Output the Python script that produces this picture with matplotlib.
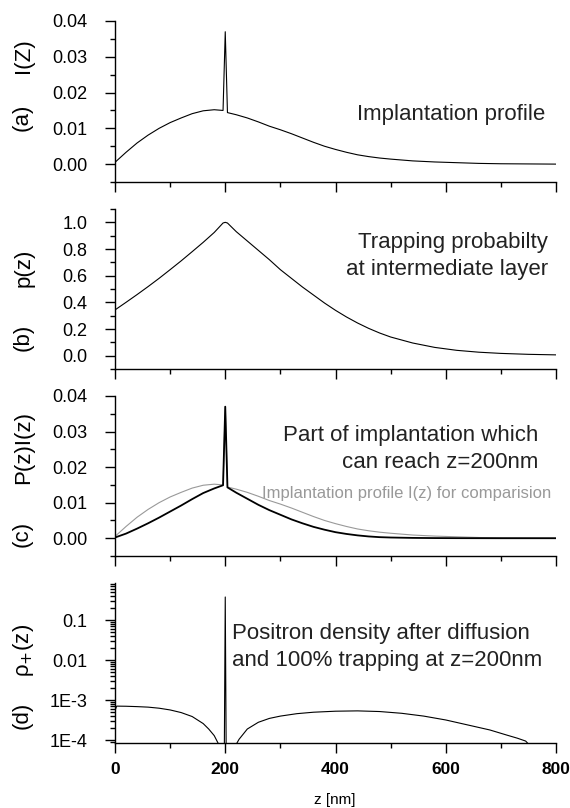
import matplotlib
matplotlib.use("Agg")
import matplotlib.pyplot as plt
from matplotlib.ticker import MultipleLocator, FixedLocator, FixedFormatter, LogLocator, NullFormatter

plt.rcParams['font.family'] = ['Liberation Sans', 'DejaVu Sans']

# ---------------- data ----------------
z_I = [0, 20, 40, 60, 80, 100, 120, 140, 160, 180, 196, 200, 204, 220, 240, 260, 280,
       300, 320, 340, 360, 380, 400, 420, 440, 460, 480, 500, 540, 580, 620, 660, 700, 750, 800]
I_z = [0.0005, 0.0033, 0.0059, 0.0081, 0.0100, 0.0116, 0.0129, 0.0141, 0.0149, 0.0152, 0.0150,
       0.0370, 0.0144, 0.0138, 0.0129, 0.0118, 0.0106, 0.0096, 0.0085, 0.0073, 0.0061, 0.0050,
       0.0041, 0.0033, 0.0026, 0.0021, 0.0017, 0.0014, 0.0009, 0.0006, 0.0004, 0.0002, 0.0001,
       0.00005, 0.0]

z_p = [0, 20, 40, 60, 80, 100, 120, 140, 160, 180, 196, 200, 204, 220, 240, 260, 280,
       300, 320, 340, 360, 380, 400, 420, 440, 460, 480, 500, 540, 580, 620, 660, 700, 750, 800]
p_z = [0.343, 0.400, 0.458, 0.518, 0.580, 0.645, 0.711, 0.780, 0.850, 0.924, 0.995, 1.0, 0.995,
       0.93, 0.86, 0.79, 0.72, 0.645, 0.58, 0.515, 0.455, 0.395, 0.34, 0.29, 0.245, 0.205, 0.17,
       0.14, 0.095, 0.062, 0.04, 0.026, 0.017, 0.010, 0.006]

z_PI = [0, 20, 40, 60, 80, 100, 120, 140, 160, 180, 196, 200, 204, 220, 240, 260, 280,
        300, 320, 340, 360, 380, 400, 420, 440, 460, 480, 500, 540, 580, 620, 660, 700, 750, 800]
PI_z = [0.0002, 0.0013, 0.0027, 0.0042, 0.0058, 0.0075, 0.0092, 0.0110, 0.0127, 0.0140, 0.0149,
        0.0370, 0.0143, 0.0128, 0.0111, 0.0094, 0.0079, 0.0066, 0.0053, 0.0042, 0.0032, 0.0024,
        0.0017, 0.0012, 0.0008, 0.0005, 0.0003, 0.0002, 0.00009, 0.00004, 0.00002, 0.00001,
        0.0, 0.0, 0.0]

z_rho = [0, 3, 20, 40, 60, 80, 100, 120, 140, 160, 170, 180, 190, 198, 200, 202, 215, 225,
         240, 260, 280, 300, 330, 360, 400, 440, 480, 520, 560, 600, 640, 680, 710, 730, 745, 750]
rho_z = [5.5e-4, 7.1e-4, 7.05e-4, 6.9e-4, 6.7e-4, 6.3e-4, 5.7e-4, 4.9e-4, 3.9e-4, 2.6e-4, 1.9e-4,
         1.3e-4, 7e-5, 1e-5, 0.38, 1e-5, 6e-5, 1.05e-4, 1.9e-4, 2.8e-4, 3.5e-4, 4.0e-4, 4.6e-4,
         5.0e-4, 5.3e-4, 5.4e-4, 5.2e-4, 4.7e-4, 4.0e-4, 3.2e-4, 2.4e-4, 1.8e-4, 1.35e-4, 1.12e-4,
         9.5e-5, 8e-5]

x_ticks = [0, 200, 400, 600, 800]
x_ticklabels = ['0', '200', '400', '600', '800']
rho_ticks = [1e-4, 1e-3, 1e-2, 1e-1]
rho_ticklabels = ['1E-4', '1E-3', '0.01', '0.1']

# ---------------- layout ----------------
W, H = 570, 808
fig = plt.figure(figsize=(W / 100, H / 100), dpi=100)


def px_axes(top, bottom):
    left, right = 115, 556
    return fig.add_axes([left / W, 1 - bottom / H, (right - left) / W, (bottom - top) / H])


def style(ax, show_xlabels=False):
    for s in ['top', 'right']:
        ax.spines[s].set_visible(False)
    for s in ['left', 'bottom']:
        ax.spines[s].set_linewidth(1.0)
    ax.set_xlim(0, 800)
    ax.xaxis.set_major_locator(FixedLocator(x_ticks))
    ax.xaxis.set_minor_locator(MultipleLocator(100))
    ax.tick_params(which='major', direction='out', length=7, width=1.0, labelsize=13, pad=13)
    ax.tick_params(which='minor', direction='out', length=3.5, width=1.0)
    ax.tick_params(axis='x', which='major', pad=7)
    if show_xlabels:
        ax.set_xticklabels(x_ticklabels, fontweight='bold', fontsize=12.5)
    else:
        ax.set_xticklabels([])


def ftext(x, y, s, **kw):
    fig.text(x / W, 1 - y / H, s, **kw)


# (a)
ax1 = px_axes(21, 182)
ax1.plot(z_I, I_z, color='black', lw=0.8)
ax1.set_ylim(-0.005, 0.04)
ax1.yaxis.set_major_locator(FixedLocator([0.0, 0.01, 0.02, 0.03, 0.04]))
ax1.yaxis.set_major_formatter(FixedFormatter(['0.00', '0.01', '0.02', '0.03', '0.04']))
ax1.yaxis.set_minor_locator(MultipleLocator(0.005))
style(ax1)

# (b)
ax2 = px_axes(209, 369)
ax2.plot(z_p, p_z, color='black', lw=0.8)
ax2.set_ylim(-0.1, 1.1)
ax2.yaxis.set_major_locator(FixedLocator([0.0, 0.2, 0.4, 0.6, 0.8, 1.0]))
ax2.yaxis.set_major_formatter(FixedFormatter(['0.0', '0.2', '0.4', '0.6', '0.8', '1.0']))
ax2.yaxis.set_minor_locator(MultipleLocator(0.1))
style(ax2)

# (c)
ax3 = px_axes(396, 556)
ax3.plot(z_I, I_z, color='#999999', lw=0.8)
ax3.plot(z_PI, PI_z, color='black', lw=1.3)
ax3.set_ylim(-0.005, 0.04)
ax3.yaxis.set_major_locator(FixedLocator([0.0, 0.01, 0.02, 0.03, 0.04]))
ax3.yaxis.set_major_formatter(FixedFormatter(['0.00', '0.01', '0.02', '0.03', '0.04']))
ax3.yaxis.set_minor_locator(MultipleLocator(0.005))
style(ax3)

# (d)
ax4 = px_axes(583, 743)
ax4.plot(z_rho, rho_z, color='black', lw=0.8)
ax4.set_yscale('log')
ax4.set_ylim(8.5e-5, 0.85)
ax4.yaxis.set_major_locator(FixedLocator(rho_ticks))
ax4.yaxis.set_major_formatter(FixedFormatter(rho_ticklabels))
ax4.yaxis.set_minor_locator(LogLocator(base=10, subs=range(2, 10), numticks=20))
ax4.yaxis.set_minor_formatter(NullFormatter())
style(ax4, show_xlabels=True)

# y labels
lab = dict(rotation=90, ha='center', va='center', fontsize=16)
ftext(24, 56, 'I(Z)', **lab)
ftext(22, 117, '(a)', **lab)
ftext(24, 268, 'p(z)', **lab)
ftext(23, 337, '(b)', **lab)
ftext(24, 447, 'P(z)I(z)', **lab)
ftext(22, 534, '(c)', **lab)
ftext(24, 650, 'ρ$_{+}$(z)', **lab)
ftext(22, 715, '(d)', **lab)

# annotations
ann = dict(fontsize=16, va='baseline', color='#222222')
ftext(545, 120, 'Implantation profile', ha='right', **ann)
ftext(548, 248, 'Trapping probabilty', ha='right', **ann)
ftext(548, 275, 'at intermediate layer', ha='right', **ann)
ftext(538, 441, 'Part of implantation which', ha='right', **ann)
ftext(538, 468, 'can reach z=200nm', ha='right', **ann)
ftext(551, 498, 'Implantation profile I(z) for comparision', ha='right', va='baseline',
      fontsize=12, color='#999999')
ftext(232, 639, 'Positron density after diffusion', ha='left', **ann)
ftext(232, 666, 'and 100% trapping at z=200nm', ha='left', **ann)

ftext(335, 800, 'z [nm]', ha='center', va='center', fontsize=11)

fig.savefig('out.png', dpi=100)
